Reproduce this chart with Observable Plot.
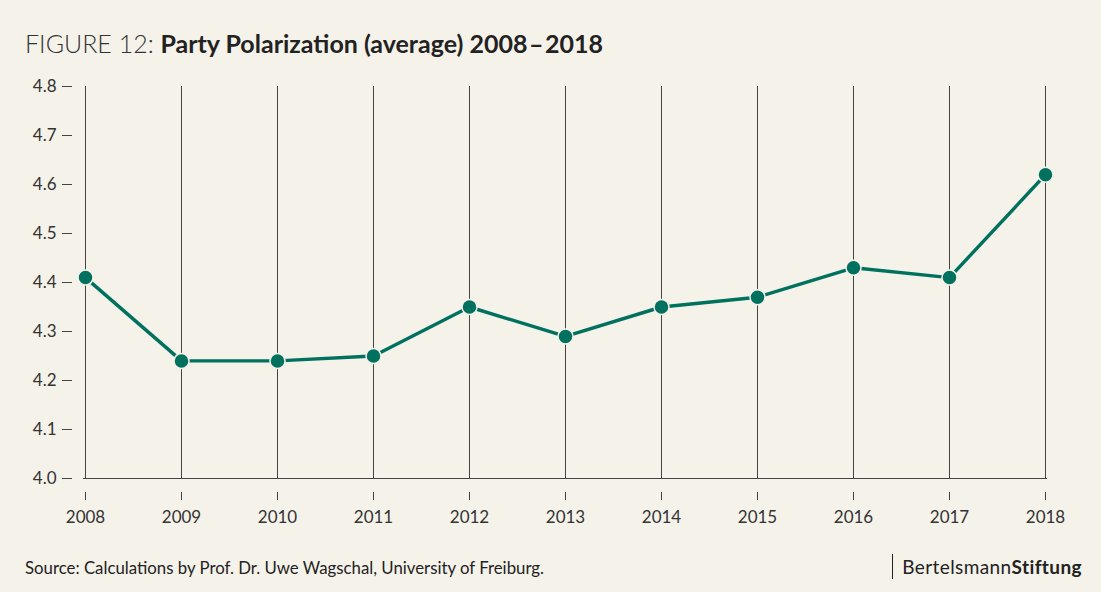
<!DOCTYPE html>
<html>
<head>
<meta charset="utf-8">
<script src="https://cdn.jsdelivr.net/npm/d3@7"></script>
<script src="https://cdn.jsdelivr.net/npm/@observablehq/plot@0.6"></script>
<style>
  html, body { margin: 0; padding: 0; background: #f5f2ea; }
  body { width: 1101px; height: 592px; position: relative; overflow: hidden; font-family: Lato, "Open Sans", sans-serif; color: #222; }
  #title { position: absolute; left: 25px; top: 28px; font-size: 25px; white-space: nowrap; }
  #title .light { font-weight: 300; color: #333; }
  #title .bold { font-weight: 700; color: #222; }
  #chart { position: absolute; left: 0; top: 70px; }
  #chart svg text { font-size: 17px; }
  #source { position: absolute; left: 25px; top: 557px; font-size: 16.8px; color: #222; }
  #logo { position: absolute; right: 19px; top: 554px; font-size: 19px; letter-spacing: 0.4px; border-left: 1.5px solid #222; padding-left: 9px; line-height: 25px; color: #222; }
  #logo b { font-weight: 700; }
</style>
</head>
<body>
<div id="title"><span class="light">FIGURE 12: </span><span class="bold">Party Polarization (average) 2008&#8202;–&#8202;2018</span></div>
<div id="chart"></div>
<div id="source">Source: Calculations by Prof. Dr. Uwe Wagschal, University of Freiburg.</div>
<div id="logo">Bertelsmann<b>Stiftung</b></div>
<script>
const years = [2008, 2009, 2010, 2011, 2012, 2013, 2014, 2015, 2016, 2017, 2018];
const polarization = [4.41, 4.24, 4.24, 4.25, 4.35, 4.29, 4.35, 4.37, 4.43, 4.41, 4.62];
const yTicks = [4.0, 4.1, 4.2, 4.3, 4.4, 4.5, 4.6, 4.7, 4.8];

const data = years.map((y, i) => ({year: y, value: polarization[i]}));
const teal = "#00705f";

const chart = Plot.plot({
  width: 1101,
  height: 470,
  marginLeft: 83,
  marginRight: 54,
  marginTop: 16,
  marginBottom: 62,
  style: {background: "transparent", fontFamily: "Lato, sans-serif", fontSize: "17px", color: "#333"},
  x: {type: "point", domain: years, padding: 0},
  y: {domain: [4.0, 4.8]},
  marks: [
    Plot.ruleX(years, {x: d => d, y1: 4.0, y2: 4.8, stroke: "#444", strokeWidth: 1}),
    Plot.ruleY([4.0], {stroke: "#444", strokeWidth: 1}),
    Plot.axisY(yTicks, {tickFormat: d => d.toFixed(1), tickSize: 10, dx: -11, tickPadding: 6, stroke: "#444", fill: "#333", fontSize: 17, label: null}),
    Plot.axisX(years, {tickFormat: d => String(d), tickSize: 8, dy: 14, tickPadding: 10, stroke: "#444", fill: "#333", fontSize: 17, label: null}),
    Plot.line(data, {x: "year", y: "value", stroke: teal, strokeWidth: 3.4}),
    Plot.dot(data, {x: "year", y: "value", r: 7.5, fill: teal, stroke: "#f5f2ea", strokeWidth: 1.5})
  ]
});
document.getElementById("chart").appendChild(chart);
</script>
</body>
</html>
